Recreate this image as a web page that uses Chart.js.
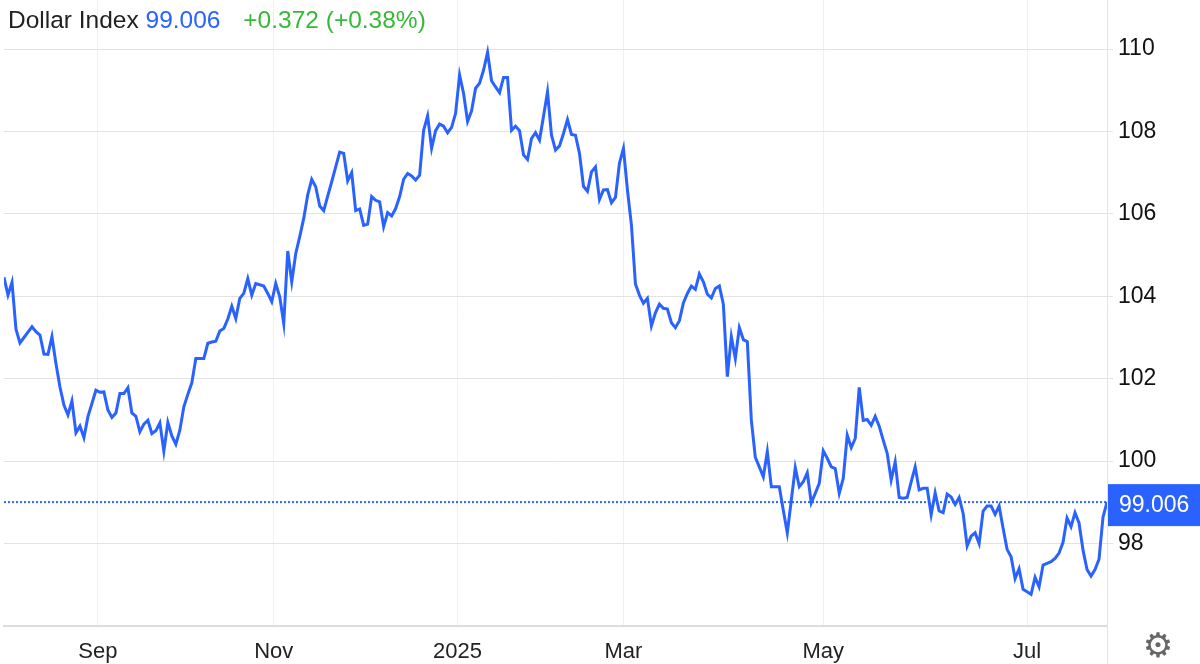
<!DOCTYPE html>
<html>
<head>
<meta charset="utf-8">
<script src="https://cdn.jsdelivr.net/npm/chart.js@4.4.1/dist/chart.umd.min.js"></script>
<style>
  html, body { margin: 0; padding: 0; background: #fff; }
  #wrap { position: relative; width: 1200px; height: 664px; }
  #title { position: absolute; left: 8px; top: 6px; line-height: 28px; font: 24.5px 'Liberation Sans', Arial, sans-serif; color: #222; white-space: nowrap; z-index: 2; }
  #title .last { color: #2962ff; }
  #title .chg { color: #36b936; margin-left: 16px; }
</style>
</head>
<body>
<div id="wrap">
  <div id="title">Dollar Index <span class="last">99.006</span> <span class="chg">+0.372 (+0.38%)</span></div>
  <canvas id="chart" width="1200" height="664"></canvas>
</div>
<script>
'use strict';

// daily closes, Aug 2024 -> Jul 2025
const dxyValues = [
  104.46, 104.03, 104.34, 103.20, 102.87, 103.00, 103.13, 103.26, 103.14, 103.06,
  102.60, 102.59, 103.02, 102.37, 101.80, 101.36, 101.12, 101.46, 100.69, 100.85,
  100.57, 101.08, 101.40, 101.72, 101.67, 101.68, 101.24, 101.06, 101.17, 101.64,
  101.64, 101.78, 101.17, 101.09, 100.71, 100.90, 100.99, 100.67, 100.74, 100.93,
  100.24, 100.94, 100.61, 100.41, 100.75, 101.32, 101.62, 101.90, 102.49, 102.49,
  102.49, 102.86, 102.89, 102.91, 103.16, 103.22,
  103.45, 103.76, 103.46, 103.95, 104.07, 104.43, 104.03, 104.31, 104.28, 104.25,
  104.07, 103.87, 104.31, 103.99, 103.34,
  105.10, 104.35, 105.04, 105.45, 105.89, 106.46, 106.84, 106.66, 106.19, 106.08,
  106.43, 106.78, 107.14, 107.50, 107.47, 106.80, 107.00, 106.08, 106.12, 105.72,
  105.75, 106.42, 106.33, 106.29, 105.69, 106.03, 105.95, 106.13, 106.42, 106.84,
  106.98, 106.92, 106.82, 106.94, 108.03, 108.38, 107.59, 108.02, 108.18, 108.13,
  107.97, 108.10, 108.44, 109.37, 108.92, 108.24, 108.50, 109.05, 109.17, 109.49,
  109.92, 109.23, 109.08, 108.94, 109.31, 109.31, 108.03, 108.13, 108.02, 107.43,
  107.32, 107.83, 107.97, 107.79, 108.37, 108.96, 107.91, 107.55, 107.65, 107.95,
  108.29, 107.93, 107.91, 107.47, 106.67, 106.55, 107.02, 107.14, 106.35, 106.58,
  106.59, 106.27, 106.40, 107.23, 107.59, 106.58, 105.73, 104.30, 104.03, 103.83,
  103.95, 103.28, 103.60, 103.81, 103.71, 103.69, 103.36, 103.24, 103.41, 103.84,
  104.07, 104.25, 104.17, 104.54, 104.35, 104.05, 103.96, 104.19, 104.25, 103.81,
  102.05, 103.02, 102.49, 103.24, 102.95, 102.90, 101.00, 100.09, 99.86, 99.62,
  100.23, 99.38, 99.38, 99.38, 98.81, 98.26, 99.05, 99.84, 99.38, 99.50,
  99.72, 98.99, 99.22, 99.46, 100.25, 100.07, 99.86, 99.82, 99.22, 99.58,
  100.63, 100.33, 100.55, 101.79, 100.99, 101.01, 100.87, 101.09, 100.85, 100.51,
  100.19, 99.54, 99.98, 99.12, 99.10, 99.12, 99.50, 99.86, 99.30, 99.34,
  99.34, 98.70, 99.23, 98.79, 98.75, 99.20, 99.13, 98.95, 99.12, 98.73,
  97.94, 98.18, 98.26, 98.00, 98.79, 98.91, 98.91, 98.71, 98.91, 98.37,
  97.86, 97.68, 97.15, 97.39, 96.89, 96.83, 96.77, 97.18, 96.95, 97.48,
  97.52, 97.56, 97.64, 97.77, 98.03, 98.62, 98.41, 98.75, 98.50, 97.84,
  97.37, 97.21, 97.37, 97.62, 98.64, 99.006
];

// where each month starts, in data-point positions
const monthPos = [23.5, 67.5, 113.5, 155, 205, 256];
const monthLabels = ['Sep', 'Nov', '2025', 'Mar', 'May', 'Jul'];
const yTicks = [98, 100, 102, 104, 106, 108, 110];

const lineColor = '#2962ff';
const lastValue = dxyValues[dxyValues.length - 1];

Chart.defaults.font.family = "'Liberation Sans', Arial, sans-serif";

// dotted last-price line, price badge, gear and the axis stub under the plot
const lastPricePlugin = {
  id: 'lastPrice',
  afterDatasetsDraw(chart) {
    const { ctx, chartArea, scales } = chart;
    const py = scales.y.getPixelForValue(lastValue);
    ctx.save();
    ctx.strokeStyle = lineColor;
    ctx.lineWidth = 2;
    ctx.setLineDash([2, 2]);
    ctx.beginPath();
    ctx.moveTo(chartArea.left, py);
    ctx.lineTo(chartArea.right, py);
    ctx.stroke();
    ctx.restore();
  },
  afterDraw(chart) {
    const { ctx, chartArea, scales } = chart;
    const py = scales.y.getPixelForValue(lastValue);
    ctx.save();
    ctx.strokeStyle = '#e3e3e3';
    ctx.lineWidth = 1;
    ctx.beginPath();
    ctx.moveTo(chartArea.right + 0.5, chartArea.bottom);
    ctx.lineTo(chartArea.right + 0.5, chart.height);
    ctx.stroke();

    ctx.fillStyle = lineColor;
    ctx.fillRect(chartArea.right + 1, py - 18, chart.width - chartArea.right, 42);
    ctx.fillStyle = '#fff';
    ctx.font = "23px 'Liberation Sans', Arial, sans-serif";
    ctx.textBaseline = 'middle';
    ctx.textAlign = 'left';
    ctx.fillText(lastValue.toFixed(3), chartArea.right + 12, py + 4);

    ctx.fillStyle = '#666';
    ctx.font = "34px 'DejaVu Sans', sans-serif";
    ctx.textAlign = 'center';
    ctx.fillText('\u2699', 1158, 648);
    ctx.restore();
  }
};

new Chart(document.getElementById('chart').getContext('2d'), {
  type: 'line',
  data: {
    datasets: [{
      label: 'Dollar Index',
      data: dxyValues.map((v, i) => ({ x: i, y: v })),
      borderColor: lineColor,
      borderWidth: 3,
      pointRadius: 0,
      tension: 0,
      fill: false
    }]
  },
  options: {
    responsive: false,
    animation: false,
    devicePixelRatio: 1,
    layout: { padding: { left: 4, top: 0, right: 0, bottom: 0 } },
    plugins: { legend: { display: false }, tooltip: { enabled: false } },
    scales: {
      x: {
        type: 'linear',
        min: 0,
        max: dxyValues.length - 1,
        afterBuildTicks: s => { s.ticks = monthPos.map(v => ({ value: v })); },
        afterFit: s => { s.height = 38; s.paddingLeft = 0; s.paddingRight = 0; },
        grid: { color: '#edf1f6', drawTicks: false },
        border: { color: '#dddddd', width: 2 },
        ticks: {
          color: '#222',
          font: { size: 22 },
          padding: 13,
          autoSkip: false,
          maxRotation: 0,
          callback: (v, i) => monthLabels[i]
        }
      },
      y: {
        position: 'right',
        min: 96.0,
        max: 111.19,
        afterBuildTicks: s => { s.ticks = yTicks.map(v => ({ value: v })); },
        afterFit: s => { s.width = 93; s.paddingTop = 0; s.paddingBottom = 0; },
        grid: { color: '#e3e3e3', tickLength: 6 },
        border: { color: '#e3e3e3' },
        ticks: { color: '#111', font: { size: 23 }, padding: 5 }
      }
    }
  },
  plugins: [lastPricePlugin]
});
</script>
</body>
</html>
